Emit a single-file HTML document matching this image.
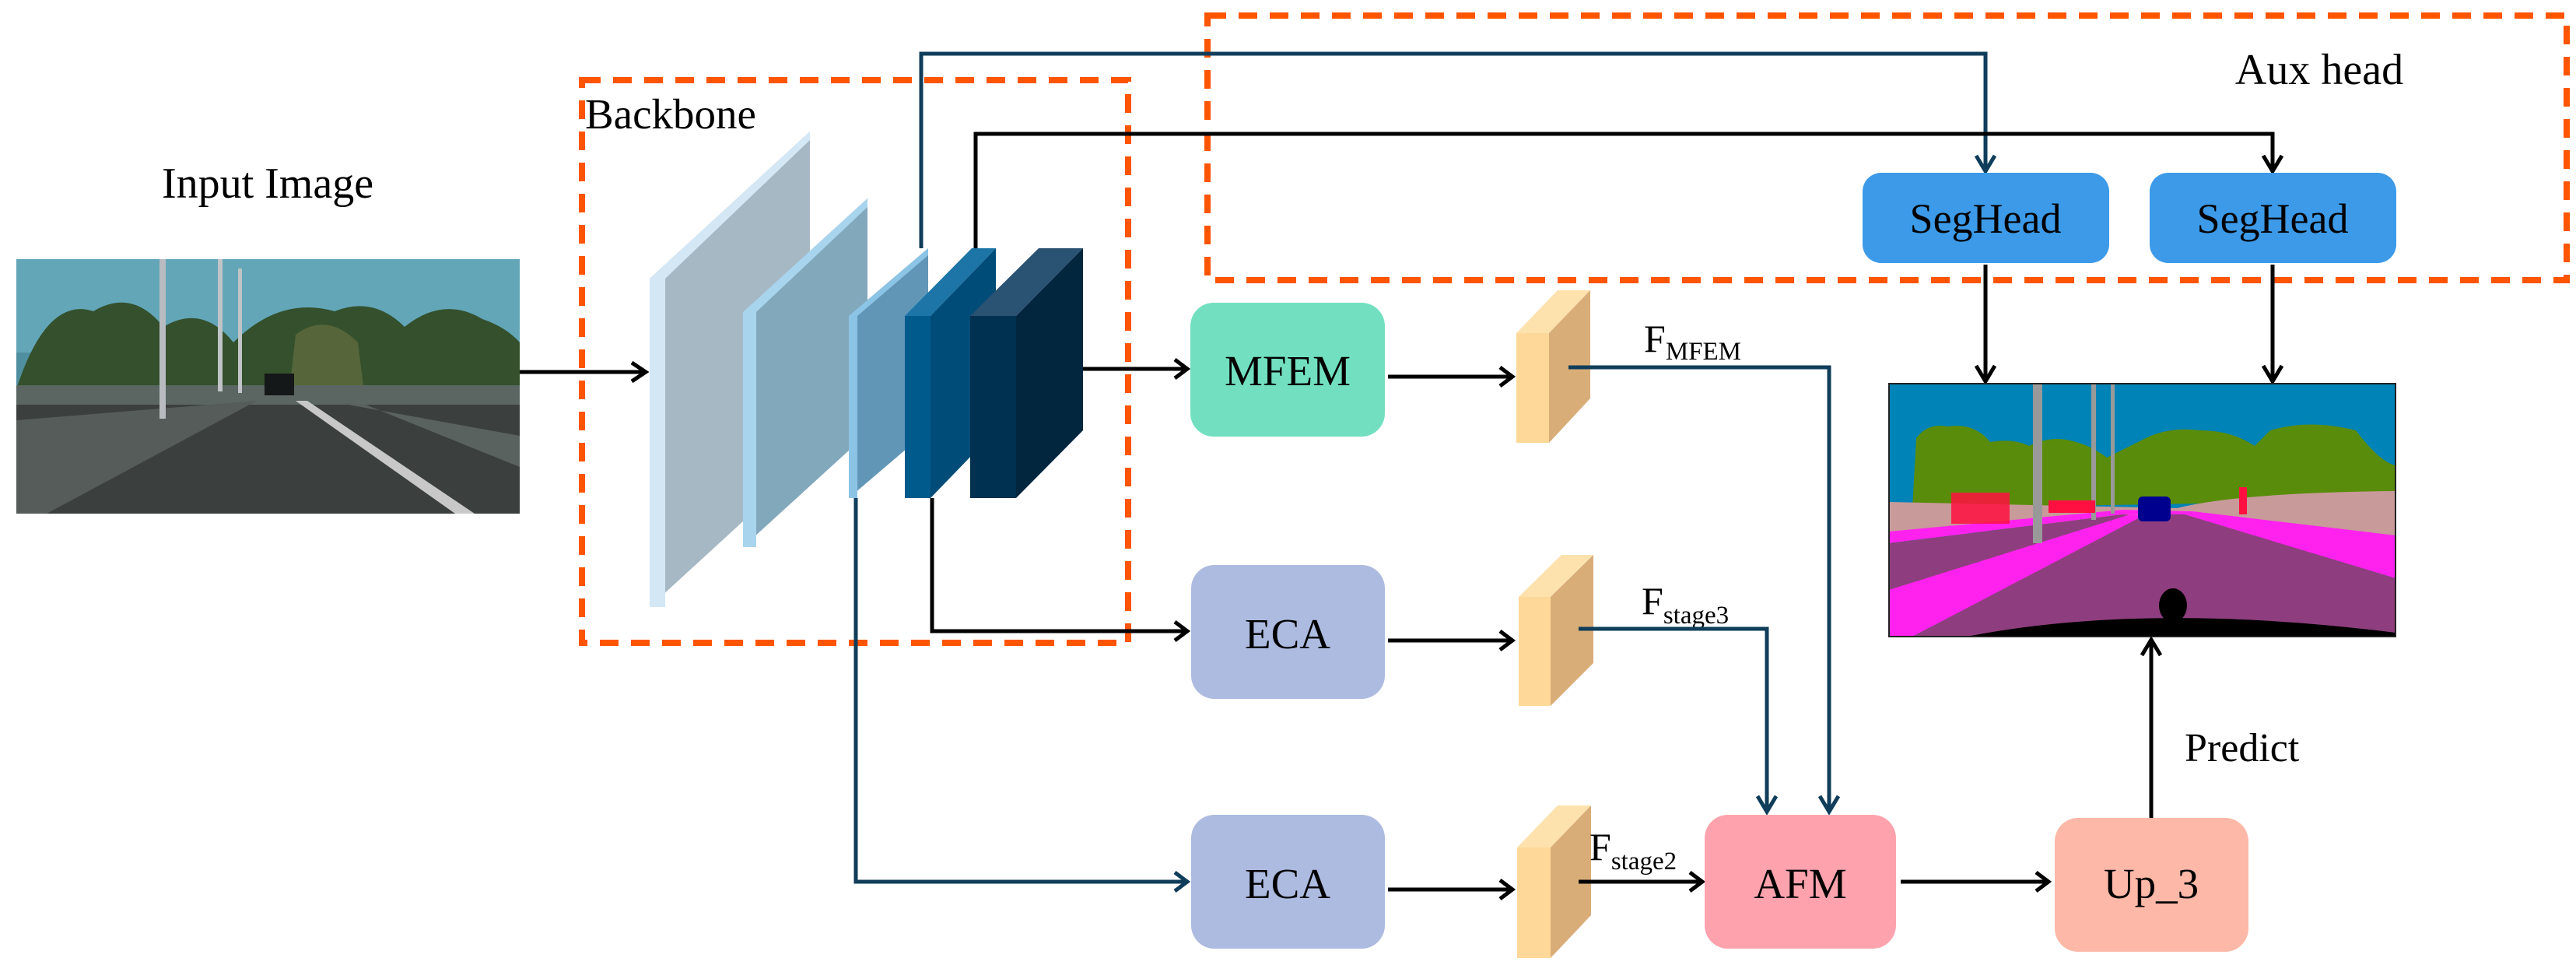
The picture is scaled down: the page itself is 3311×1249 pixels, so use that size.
<!DOCTYPE html>
<html><head><meta charset="utf-8"><style>
html,body{margin:0;padding:0;background:#fff;}
svg{display:block;}
text{font-family:"Liberation Serif",serif;fill:#000;}
</style></head><body>
<svg width="3311" height="1249" viewBox="0 0 3311 1249" xmlns="http://www.w3.org/2000/svg">

<!-- Input image -->
<text x="344" y="254" font-size="56" text-anchor="middle">Input Image</text>
<g>
<rect x="21" y="333" width="647" height="327" fill="#4f8fa0"/>
<rect x="21" y="333" width="647" height="120" fill="#62a6b8"/>
<path d="M21 500 Q60 380 120 400 Q170 370 210 420 Q260 390 300 440 Q360 380 430 400 Q480 380 520 420 Q570 380 620 410 Q650 420 668 440 L668 520 L21 520 Z" fill="#34502c"/>
<path d="M380 430 Q420 400 460 440 L470 520 L370 520 Z" fill="#56663a"/>
<rect x="21" y="495" width="647" height="30" fill="#5b6662"/>
<path d="M21 520 L668 520 L668 660 L21 660 Z" fill="#3b403e"/>
<path d="M21 540 L330 515 L60 660 L21 660 Z" fill="#555c5a"/>
<path d="M420 515 L668 560 L668 600 L470 520 Z" fill="#5a6260"/>
<path d="M380 515 L395 515 L610 660 L585 660 Z" fill="#c8c8c8"/>
<rect x="205" y="333" width="8" height="205" fill="#b8bcc0"/>
<rect x="280" y="333" width="6" height="170" fill="#c0c4c6"/>
<rect x="306" y="345" width="5" height="160" fill="#c0c4c6"/>
<rect x="340" y="480" width="38" height="28" fill="#151818"/>
</g>
<line x1="668" y1="478" x2="830" y2="478" stroke="#000" stroke-width="5"/>
<polyline points="812,466 830,478 812,490" fill="none" stroke="#000" stroke-width="5"/>

<!-- Backbone box -->
<rect x="748" y="103" width="702" height="723" fill="none" stroke="#ff5500" stroke-width="8" stroke-dasharray="24,16"/>
<text x="752" y="165" font-size="55">Backbone</text>

<!-- layers -->
<polygon points="835,358 1041,169 1041,591 835,780" fill="#a6b8c3"/>
<polygon points="835,358 855,358 855,780 835,780" fill="#d3e7f4"/>
<polygon points="835,358 1041,169 1041,180 855,358" fill="#d3e7f4"/>
<polygon points="955,401 1115,255 1115,557 955,703" fill="#82a8bc"/>
<polygon points="955,401 972,401 972,703 955,703" fill="#a9d4ee"/>
<polygon points="955,401 1115,255 1115,266 972,401" fill="#a9d4ee"/>
<polygon points="1091,406 1193,319 1193,553 1091,640" fill="#6196b6"/>
<polygon points="1091,406 1102,406 1102,640 1091,640" fill="#8cc4e6"/>
<polygon points="1091,406 1193,319 1193,328 1102,406" fill="#8cc4e6"/>
<polygon points="1163,406 1249,319 1280,319 1196,406" fill="#1c75a6"/>
<polygon points="1196,406 1280,319 1280,553 1196,640" fill="#004c78"/>
<rect x="1163" y="406" width="33" height="234" fill="#005b8c"/>
<polygon points="1247,406 1335,319 1392,319 1306,406" fill="#2a5272"/>
<polygon points="1306,406 1392,319 1392,553 1306,640" fill="#02263e"/>
<rect x="1247" y="406" width="59" height="234" fill="#003150"/>

<!-- Aux head box -->
<rect x="1552" y="20" width="1747" height="340" fill="none" stroke="#ff5500" stroke-width="8" stroke-dasharray="24,16"/>
<text x="2981" y="108" font-size="56" text-anchor="middle">Aux head</text>

<!-- connectors to SegHeads -->
<polyline points="1184,319 1184,69 2552,69 2552,220" fill="none" stroke="#0f3d5a" stroke-width="5"/>
<polyline points="2540,200 2552,220 2564,200" fill="none" stroke="#0f3d5a" stroke-width="5"/>
<polyline points="1254,319 1254,172 2921,172 2921,220" fill="none" stroke="#000" stroke-width="5"/>
<polyline points="2909,200 2921,220 2933,200" fill="none" stroke="#000" stroke-width="5"/>

<rect x="2394" y="222" width="317" height="116" rx="24" fill="#3c9ae8"/>
<text x="2552" y="299" font-size="54" text-anchor="middle">SegHead</text>
<rect x="2763" y="222" width="317" height="116" rx="24" fill="#3c9ae8"/>
<text x="2921" y="299" font-size="54" text-anchor="middle">SegHead</text>

<line x1="2552" y1="340" x2="2552" y2="490" stroke="#000" stroke-width="5"/>
<polyline points="2540,470 2552,490 2564,470" fill="none" stroke="#000" stroke-width="5"/>
<line x1="2921" y1="340" x2="2921" y2="490" stroke="#000" stroke-width="5"/>
<polyline points="2909,470 2921,490 2933,470" fill="none" stroke="#000" stroke-width="5"/>

<!-- Seg image -->
<g transform="translate(2428,493)">
<rect x="0" y="0" width="651" height="325" fill="#0083b6"/>
<path d="M30 160 L35 70 Q50 50 75 55 Q110 50 130 75 Q160 70 180 80 Q210 65 240 75 Q260 80 280 95 L330 70 Q360 55 400 60 Q440 60 470 80 L490 60 Q540 45 600 60 Q630 100 651 105 L651 150 L30 160 Z" fill="#5a8c0b"/>
<path d="M0 152 L370 160 Q450 140 651 138 L651 195 L350 170 L0 195 Z" fill="#c89a9a"/>
<path d="M0 190 L300 162 L390 164 L651 195 L651 250 L380 170 L300 168 L0 205 Z" fill="#ff22ee"/>
<path d="M0 205 L300 168 L330 170 L0 265 Z" fill="#8e3e7e"/>
<path d="M0 265 L310 168 L330 170 L30 325 L0 325 Z" fill="#ff22ee"/>
<path d="M30 325 L330 168 L380 168 L651 250 L651 325 Z" fill="#8e3e7e"/>
<path d="M100 325 Q330 280 651 320 L651 325 Z" fill="#000"/>
<ellipse cx="365" cy="285" rx="18" ry="22" fill="#000"/>
<rect x="185" y="0" width="12" height="205" fill="#999"/>
<rect x="260" y="0" width="6" height="175" fill="#999"/>
<rect x="285" y="0" width="5" height="167" fill="#999"/>
<rect x="320" y="145" width="42" height="32" rx="6" fill="#00008e"/>
<rect x="80" y="140" width="75" height="40" fill="#ff1040" opacity="0.85"/>
<rect x="205" y="150" width="60" height="16" fill="#ff1040"/>
<rect x="450" y="133" width="10" height="35" fill="#ff1040"/>
<rect x="0" y="0" width="651" height="325" fill="none" stroke="#222" stroke-width="2"/>
</g>

<!-- MFEM row -->
<line x1="1392" y1="474" x2="1526" y2="474" stroke="#000" stroke-width="5"/>
<polyline points="1510,462 1526,474 1510,486" fill="none" stroke="#000" stroke-width="5"/>
<rect x="1530" y="389" width="250" height="172" rx="30" fill="#72e0c0"/>
<text x="1655" y="495" font-size="55" text-anchor="middle">MFEM</text>
<line x1="1784" y1="484" x2="1944" y2="484" stroke="#000" stroke-width="5"/>
<polyline points="1928,472 1944,484 1928,496" fill="none" stroke="#000" stroke-width="5"/>
<polygon points="1949,428 1991,428 2044,373 2002,373" fill="#fde2ae"/>
<polygon points="1991,428 2044,373 2044,512 1991,569" fill="#d9ad78"/>
<rect x="1949" y="428" width="42" height="141" fill="#fdd898"/>
<text x="2113" y="452" font-size="50">F<tspan font-size="33" dy="10">MFEM</tspan></text>
<polyline points="2016,472 2351,472 2351,1043" fill="none" stroke="#0f3d5a" stroke-width="5"/>
<polyline points="2339,1023 2351,1043 2363,1023" fill="none" stroke="#0f3d5a" stroke-width="5"/>

<!-- ECA1 row -->
<polyline points="1198,640 1198,811 1526,811" fill="none" stroke="#000" stroke-width="5"/>
<polyline points="1510,799 1526,811 1510,823" fill="none" stroke="#000" stroke-width="5"/>
<rect x="1531" y="726" width="249" height="172" rx="30" fill="#adbbe1"/>
<text x="1655" y="833" font-size="55" text-anchor="middle">ECA</text>
<line x1="1784" y1="823" x2="1944" y2="823" stroke="#000" stroke-width="5"/>
<polyline points="1928,811 1944,823 1928,835" fill="none" stroke="#000" stroke-width="5"/>
<polygon points="1952,767 1993,767 2048,713 2007,713" fill="#fde2ae"/>
<polygon points="1993,767 2048,713 2048,852 1993,907" fill="#d9ad78"/>
<rect x="1952" y="767" width="41" height="140" fill="#fdd898"/>
<text x="2110" y="789" font-size="50">F<tspan font-size="33" dy="12">stage3</tspan></text>
<polyline points="2029,808 2271,808 2271,1043" fill="none" stroke="#0f3d5a" stroke-width="5"/>
<polyline points="2259,1023 2271,1043 2283,1023" fill="none" stroke="#0f3d5a" stroke-width="5"/>

<!-- ECA2 row -->
<polyline points="1100,640 1100,1133 1526,1133" fill="none" stroke="#0f3d5a" stroke-width="5"/>
<polyline points="1510,1121 1526,1133 1510,1145" fill="none" stroke="#0f3d5a" stroke-width="5"/>
<rect x="1531" y="1047" width="249" height="172" rx="30" fill="#adbbe1"/>
<text x="1655" y="1154" font-size="55" text-anchor="middle">ECA</text>
<line x1="1784" y1="1143" x2="1944" y2="1143" stroke="#000" stroke-width="5"/>
<polyline points="1928,1131 1944,1143 1928,1155" fill="none" stroke="#000" stroke-width="5"/>
<polygon points="1950,1089 1993,1089 2045,1035 2002,1035" fill="#fde2ae"/>
<polygon points="1993,1089 2045,1035 2045,1176 1993,1231" fill="#d9ad78"/>
<rect x="1950" y="1089" width="43" height="142" fill="#fdd898"/>
<text x="2043" y="1105" font-size="50">F<tspan font-size="33" dy="12">stage2</tspan></text>
<line x1="2029" y1="1133" x2="2188" y2="1133" stroke="#000" stroke-width="5"/>
<polyline points="2172,1121 2188,1133 2172,1145" fill="none" stroke="#000" stroke-width="5"/>

<rect x="2191" y="1047" width="246" height="172" rx="30" fill="#fea3ae"/>
<text x="2314" y="1154" font-size="55" text-anchor="middle">AFM</text>
<line x1="2443" y1="1133" x2="2633" y2="1133" stroke="#000" stroke-width="5"/>
<polyline points="2617,1121 2633,1133 2617,1145" fill="none" stroke="#000" stroke-width="5"/>
<rect x="2641" y="1051" width="249" height="172" rx="30" fill="#fdb8a8"/>
<text x="2765" y="1154" font-size="55" text-anchor="middle">Up_3</text>

<line x1="2765" y1="1051" x2="2765" y2="822" stroke="#000" stroke-width="5"/>
<polyline points="2753,842 2765,822 2777,842" fill="none" stroke="#000" stroke-width="5"/>
<text x="2808" y="978" font-size="52">Predict</text>
</svg>
</body></html>
